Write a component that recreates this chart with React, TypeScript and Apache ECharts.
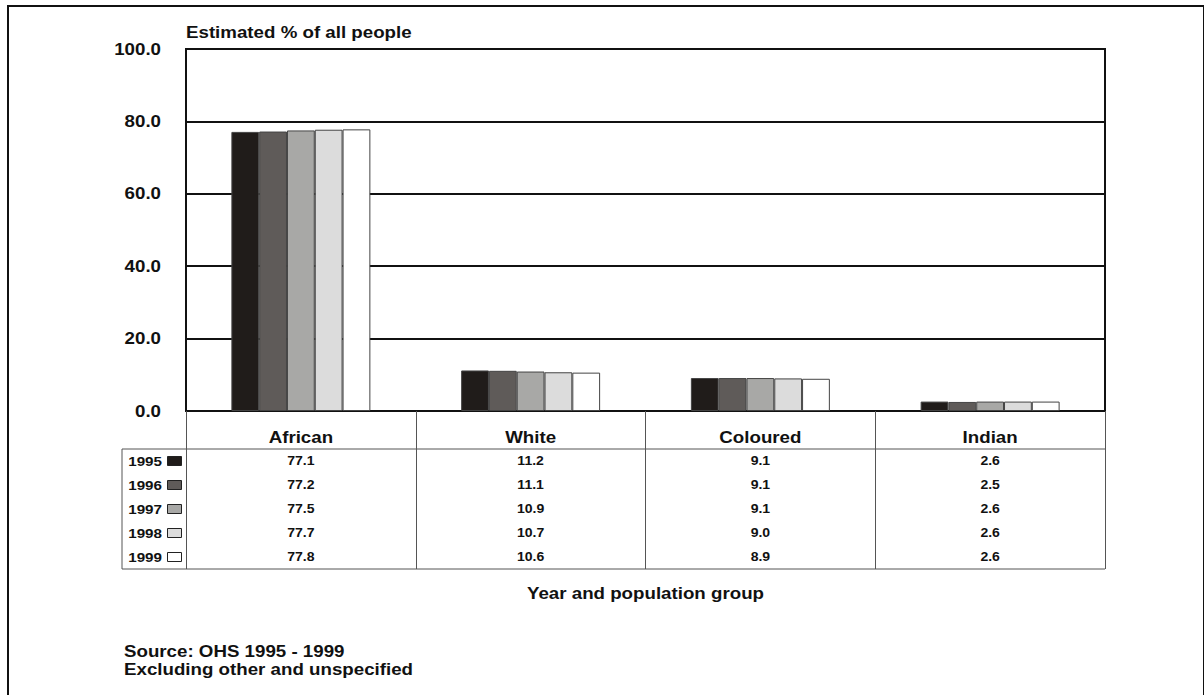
import React, { useEffect, useRef } from "react";
import * as echarts from "echarts";

const categories = ["African", "White", "Coloured", "Indian"];
const years = ["1995", "1996", "1997", "1998", "1999"];
const v1995 = [77.1, 11.2, 9.1, 2.6];
const v1996 = [77.2, 11.1, 9.1, 2.5];
const v1997 = [77.5, 10.9, 9.1, 2.6];
const v1998 = [77.7, 10.7, 9.0, 2.6];
const v1999 = [77.8, 10.6, 8.9, 2.6];
const seriesValues = [v1995, v1996, v1997, v1998, v1999];
const yTicks = [0, 20, 40, 60, 80, 100];
const colors = ["#201c1a", "#5f5b59", "#a8a8a6", "#dcdcdc", "#ffffff"];
const yAxisTitle = "Estimated % of all people";
const xAxisTitle = "Year and population group";
const notes = ["Source: OHS 1995 - 1999", "Excluding other and unspecified"];

const FONT = "Arial, 'Liberation Sans', Helvetica, sans-serif";
const SX = 1.17;

export default function App() {
  const ref = useRef<HTMLDivElement>(null);
  useEffect(() => {
    document.body.style.margin = "0";
    const chart = echarts.init(ref.current!, undefined, { renderer: "svg" });
    const gridLeft = 186, gridTop = 49, gridRight = 1105, gridBottom = 411;
    const tableTop = 449, tableBottom = 569, tableLeft = 122;
    const rowH = (tableBottom - tableTop) / years.length;

    chart.setOption({
      animation: false,
      backgroundColor: "#ffffff",
      textStyle: { fontFamily: FONT },
      grid: {
        left: gridLeft,
        top: gridTop,
        width: gridRight - gridLeft,
        height: gridBottom - gridTop,
        show: true,
        borderColor: "#111",
        borderWidth: 2,
        backgroundColor: "transparent",
      },
      xAxis: {
        type: "category",
        data: categories,
        axisLine: { show: true, lineStyle: { color: "#111", width: 2 } },
        axisTick: {
          show: true,
          length: tableBottom - gridBottom,
          lineStyle: { color: "#555", width: 1 },
        },
        axisLabel: { show: false },
      },
      yAxis: {
        type: "value",
        min: 0,
        max: 100,
        interval: 20,
        axisLine: { show: true, lineStyle: { color: "#111", width: 2 } },
        axisTick: { show: false },
        splitLine: { show: true, lineStyle: { color: "#111", width: 2 } },
        axisLabel: { show: false },
      },
      series: years.map((y, i) => ({
        name: y,
        type: "bar",
        data: seriesValues[i],
        barGap: "0%",
        barCategoryGap: "39.5%",
        itemStyle: { color: colors[i], borderColor: "#444", borderWidth: 1 },
      })),
    });

    const txt = (text: string, x: number, y: number, size: number, align: string) => ({
      type: "text",
      x,
      y,
      scaleX: SX,
      style: { text, font: `bold ${size}px ${FONT}`, fill: "#111", align, verticalAlign: "middle" },
    });

    const graphics: any[] = [];
    graphics.push({
      type: "rect",
      shape: { x: 8, y: 6, width: 1196, height: 720 },
      style: { fill: "none", stroke: "#111", lineWidth: 2 },
      silent: true,
    });
    graphics.push(txt(yAxisTitle, gridLeft, 32, 16, "left"));
    yTicks.forEach((t) => {
      const py = chart.convertToPixel({ yAxisIndex: 0 }, t) as number;
      graphics.push(txt(t.toFixed(1), 161, py, 16, "right"));
    });
    categories.forEach((c) => {
      const px = chart.convertToPixel({ xAxisIndex: 0 }, c) as number;
      graphics.push(txt(c, px, 437.5, 16, "center"));
    });
    graphics.push({
      type: "line",
      shape: { x1: tableLeft, y1: tableTop, x2: gridRight, y2: tableTop },
      style: { stroke: "#555", lineWidth: 1 },
    });
    graphics.push({
      type: "line",
      shape: { x1: tableLeft, y1: tableBottom, x2: gridRight, y2: tableBottom },
      style: { stroke: "#555", lineWidth: 1 },
    });
    graphics.push({
      type: "line",
      shape: { x1: tableLeft, y1: tableTop, x2: tableLeft, y2: tableBottom },
      style: { stroke: "#555", lineWidth: 1 },
    });
    years.forEach((yr, i) => {
      const cy = tableTop + rowH * (i + 0.5);
      graphics.push(txt(yr, 162, cy, 13, "right"));
      graphics.push({
        type: "rect",
        shape: { x: 167.5, y: cy - 4.5, width: 14, height: 9 },
        style: { fill: colors[i], stroke: "#222", lineWidth: 1 },
      });
      categories.forEach((c, j) => {
        const px = chart.convertToPixel({ xAxisIndex: 0 }, c) as number;
        graphics.push(txt(seriesValues[i][j].toFixed(1), px, cy, 12, "center"));
      });
    });
    graphics.push(txt(xAxisTitle, (gridLeft + gridRight) / 2, 593, 16, "center"));
    notes.forEach((n, i) => {
      graphics.push(txt(n, 124, 651 + i * 18, 16, "left"));
    });
    chart.setOption({ graphic: graphics });
    return () => chart.dispose();
  }, []);
  return <div ref={ref} style={{ width: 1204, height: 695 }} />;
}
